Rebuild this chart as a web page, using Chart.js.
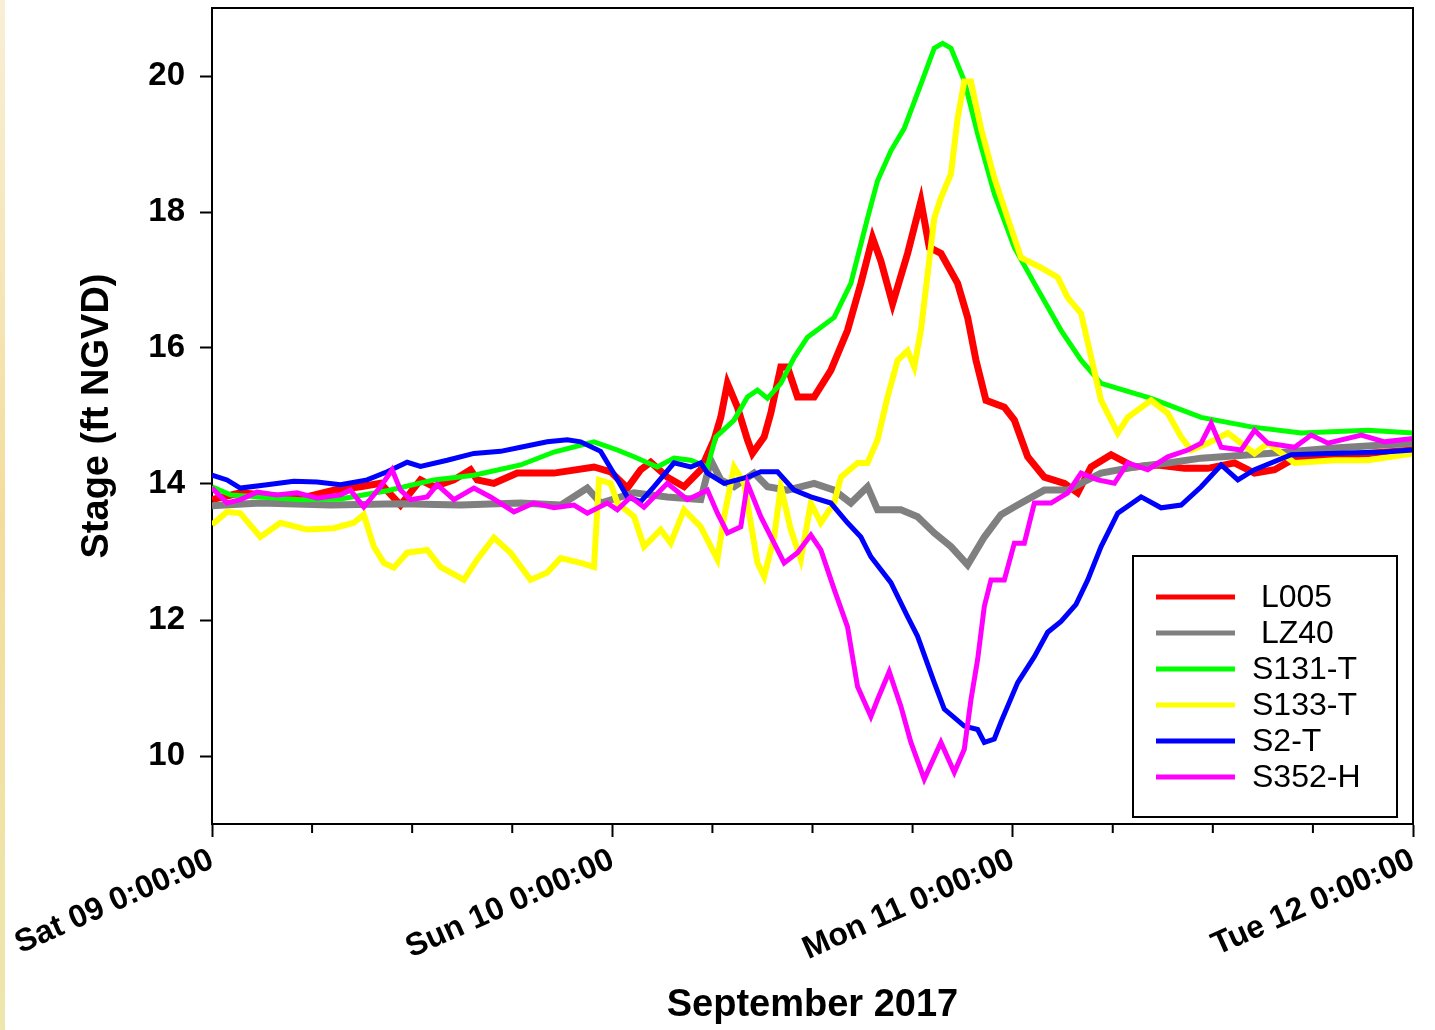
<!DOCTYPE html>
<html>
<head>
<meta charset="utf-8">
<title>Stage September 2017</title>
<script src="https://cdn.jsdelivr.net/npm/chart.js@4.4.1/dist/chart.umd.min.js"></script>
<style>
  body { margin: 0; background: #fff; }
  #strip { position: absolute; left: 0; top: 0; width: 5px; height: 1030px;
           background: linear-gradient(#f8efd6, #f4dd9c 50%, #eee6ac); }
  canvas { position: absolute; left: 0; top: 0; }
</style>
</head>
<body>
<div id="strip"></div>
<canvas id="stage" width="1435" height="1030"></canvas>
<script>
// hours since Sat 09 0:00 and stage (ft NGVD)
let l005Hours = [0,1.7,5.3,7.3,8.9,10.1,11.3,12.5,13.3,14.5,15.5,15.9,16.9,18.3,20.5,22.9,23.9,24.9,25.7,26.3,27.3,28.3,29.3,30.1,30.5,30.9,31.5,32.1,32.4,33.1,33.5,34.1,34.5,35.1,36.1,37.1,38.1,38.9,39.6,40.1,40.8,41.7,42.5,43,43.7,44.7,45.3,45.8,46.4,47.5,48.1,48.9,49.9,51.1,51.9,52.7,53.9,55.3,56.7,58.3,59.7,61.3,62.5,63.7,64.7,67.3,69.3,72];
let l005Stage = [13.77,13.87,13.79,13.91,13.96,14.01,13.69,14.06,13.96,14.06,14.21,14.06,14.01,14.16,14.16,14.25,14.18,13.94,14.21,14.32,14.10,13.96,14.21,14.65,14.98,15.48,15.13,14.65,14.45,14.69,15.04,15.72,15.72,15.28,15.28,15.67,16.26,16.95,17.62,17.28,16.65,17.39,18.16,17.48,17.39,16.95,16.45,15.82,15.23,15.13,14.94,14.40,14.10,14.01,13.87,14.25,14.43,14.25,14.28,14.23,14.23,14.31,14.16,14.21,14.35,14.40,14.45,14.50];

let lz40Hours = [0,2.9,7.1,11.3,14.9,18.5,20.9,22.5,23.3,25.3,27.3,29.3,29.9,30.5,31.3,32.5,33.3,34.5,36.1,37.3,38.3,39.3,39.9,41.3,42.3,43.3,44.3,45.3,46.3,47.3,48.3,49.9,51.3,53.3,55.3,57.3,59.3,63.3,67.3,72];
let lz40Stage = [13.68,13.72,13.69,13.71,13.69,13.72,13.69,13.94,13.72,13.87,13.81,13.77,14.35,14.06,13.96,14.16,13.96,13.91,14.01,13.91,13.72,13.96,13.62,13.62,13.52,13.28,13.08,12.81,13.22,13.55,13.69,13.91,13.91,14.16,14.25,14.31,14.38,14.45,14.53,14.60];

let s131Hours = [0,1.1,2.9,5.3,7.7,10.5,13.3,15.7,18.5,20.5,22.9,24.3,25.3,26.7,27.7,28.7,29.7,30.2,31.3,32.1,32.7,33.3,34.1,34.9,35.7,37.3,38.3,39.3,39.9,40.7,41.5,42.5,43.3,43.8,44.3,45.1,45.9,46.9,48.1,49.3,50.9,52.1,53.3,56.3,59.3,62.3,65.3,69.3,72];
let s131Stage = [13.96,13.84,13.81,13.77,13.78,13.90,14.06,14.13,14.28,14.47,14.62,14.50,14.40,14.25,14.38,14.35,14.25,14.69,14.94,15.28,15.38,15.26,15.48,15.86,16.16,16.45,16.95,17.91,18.46,18.90,19.23,19.88,20.41,20.48,20.41,19.93,19.15,18.27,17.48,16.95,16.26,15.82,15.48,15.26,14.98,14.84,14.75,14.79,14.75];

let s133Hours = [0,0.9,1.7,2.9,4.1,5.7,7.3,8.5,9.1,9.7,10.3,10.9,11.7,12.9,13.7,15.1,15.9,16.9,17.9,19.1,20.1,20.9,22.1,22.9,23.2,23.9,24.3,25.3,25.9,26.9,27.5,28.3,29.3,30.3,30.7,31.3,31.9,32.7,33.1,33.7,34.1,34.7,35.3,35.9,36.5,37.3,37.7,38.7,39.3,39.9,40.5,41.1,41.7,42.1,42.5,43.3,43.7,44.3,44.7,45.1,45.5,46.1,46.9,47.7,48.5,49.7,50.7,51.3,52.1,53.3,54.3,54.9,56.3,57.3,58.1,58.7,59.7,60.9,62.5,63.3,64.9,67.3,69.3,72];
let s133Stage = [13.40,13.59,13.57,13.22,13.43,13.33,13.35,13.43,13.55,13.08,12.84,12.77,12.99,13.03,12.78,12.59,12.89,13.21,12.99,12.59,12.70,12.91,12.84,12.78,14.06,14.01,13.72,13.52,13.08,13.33,13.13,13.62,13.37,12.89,13.52,14.25,14.01,12.84,12.64,13.22,13.96,13.33,12.89,13.72,13.43,13.72,14.10,14.31,14.31,14.65,15.28,15.82,15.96,15.72,16.26,17.91,18.21,18.56,19.38,19.92,19.92,19.23,18.50,17.91,17.33,17.18,17.04,16.74,16.51,15.23,14.75,14.98,15.23,15.04,14.69,14.50,14.60,14.75,14.45,14.60,14.31,14.35,14.35,14.45];

let s2Hours = [0,0.9,1.7,3.3,4.9,6.3,7.7,9.3,10.5,11.7,12.5,14.1,15.7,17.3,18.5,20.1,21.3,22.1,23.3,24.1,24.9,25.7,26.5,27.7,28.7,29.3,29.7,30.7,32.1,32.9,33.9,34.9,35.9,37.1,38.1,38.9,39.5,40.7,41.7,42.3,43.3,43.9,45.1,45.9,46.3,46.9,47.3,48.3,49.3,50.1,50.9,51.8,52.5,53.3,54.3,55.7,56.9,58.1,59.3,60.5,61.5,62.5,64.7,66.9,70.3,72];
let s2Stage = [14.13,14.06,13.94,13.99,14.04,14.03,13.99,14.06,14.18,14.32,14.26,14.35,14.45,14.48,14.54,14.62,14.65,14.62,14.48,14.15,13.81,13.74,13.96,14.31,14.25,14.31,14.16,14.01,14.10,14.18,14.18,13.91,13.81,13.72,13.43,13.22,12.93,12.55,12.05,11.76,11.08,10.69,10.44,10.39,10.20,10.25,10.50,11.08,11.46,11.82,11.98,12.23,12.59,13.08,13.57,13.81,13.65,13.69,13.96,14.28,14.06,14.21,14.43,14.45,14.47,14.50];

let s352Hours = [0,0.9,1.7,2.7,3.9,5.1,6.3,7.7,8.3,9.1,10.1,10.8,11.3,11.9,12.9,13.5,14.5,15.7,16.7,18.1,19.3,20.5,21.7,22.5,23.7,24.3,25.1,25.9,27.3,28.5,29.7,30.3,30.9,31.7,32.1,32.9,33.7,34.3,35.1,35.9,36.5,37.3,38.1,38.7,39.5,39.9,40.6,41.3,41.9,42.7,43.7,44.5,45.1,45.5,45.9,46.3,46.7,47.5,48.1,48.7,49.3,50.3,51.3,52.1,53.1,54.1,54.9,56.1,57.3,58.5,59.3,59.9,60.5,61.7,62.5,63.3,64.9,65.9,66.9,68.9,70.3,72];
let s352Stage = [13.94,13.72,13.77,13.88,13.84,13.87,13.79,13.84,13.91,13.66,13.96,14.21,13.91,13.77,13.81,13.99,13.77,13.94,13.81,13.59,13.72,13.65,13.69,13.57,13.72,13.62,13.81,13.66,14.01,13.77,13.91,13.57,13.28,13.37,14.01,13.52,13.13,12.84,12.99,13.25,13.03,12.45,11.90,11.02,10.58,10.83,11.24,10.73,10.20,9.66,10.20,9.76,10.10,10.83,11.42,12.20,12.59,12.59,13.13,13.13,13.72,13.72,13.87,14.16,14.06,14.01,14.31,14.21,14.40,14.50,14.60,14.89,14.54,14.50,14.79,14.60,14.54,14.72,14.60,14.72,14.62,14.67];

let seriesNames = [' L005', ' LZ40', 'S131-T', 'S133-T', 'S2-T', 'S352-H'];
let seriesColors = ['#ff0000', '#808080', '#00ff00', '#ffff00', '#0000ff', '#ff00ff'];
let seriesWidths = [7, 7, 5, 6, 5, 5];
let seriesHours = [l005Hours, lz40Hours, s131Hours, s133Hours, s2Hours, s352Hours];
let seriesStage = [l005Stage, lz40Stage, s131Stage, s133Stage, s2Stage, s352Stage];

let xTickHours = [0, 6, 12, 18, 24, 30, 36, 42, 48, 54, 60, 66, 72];
let dayLabels = ['Sat 09 0:00:00', 'Sun 10 0:00:00', 'Mon 11 0:00:00', 'Tue 12 0:00:00'];
let yTicks = [10, 12, 14, 16, 18, 20];

let fontFam = '"Liberation Sans", Arial, sans-serif';

let datasets = seriesNames.map(function (name, i) {
    return {
        label: name,
        data: seriesHours[i].map(function (h, j) { return { x: h, y: seriesStage[i][j] }; }),
        borderColor: seriesColors[i],
        backgroundColor: seriesColors[i],
        borderWidth: seriesWidths[i],
        pointRadius: 0,
        tension: 0,
        order: seriesNames.length - i
    };
});

// top/right frame, minor x ticks and the boxed legend
let framePlugin = {
    id: 'frame',
    afterDraw: function (chart) {
        let ctx = chart.ctx, a = chart.chartArea, x = chart.scales.x;
        ctx.save();
        ctx.strokeStyle = '#000';
        ctx.lineWidth = 2;
        ctx.beginPath();
        ctx.moveTo(a.left, a.top);
        ctx.lineTo(a.right, a.top);
        ctx.lineTo(a.right, a.bottom);
        ctx.stroke();
        ctx.beginPath();
        xTickHours.forEach(function (h) {
            if (h % 24 !== 0) {
                let px = x.getPixelForValue(h);
                ctx.moveTo(px, a.bottom);
                ctx.lineTo(px, a.bottom + 9);
            }
        });
        ctx.stroke();

        let bx = a.right - 280, by = a.bottom - 268, bw = 264, bh = 261;
        ctx.fillStyle = '#fff';
        ctx.fillRect(bx, by, bw, bh);
        ctx.strokeRect(bx, by, bw, bh);
        ctx.font = '32px ' + fontFam;
        ctx.textBaseline = 'middle';
        ctx.textAlign = 'left';
        chart.data.datasets.forEach(function (ds, i) {
            let ly = by + 41 + i * 36;
            ctx.strokeStyle = ds.borderColor;
            ctx.lineWidth = 5;
            ctx.beginPath();
            ctx.moveTo(bx + 23, ly);
            ctx.lineTo(bx + 102, ly);
            ctx.stroke();
            ctx.fillStyle = '#000';
            ctx.fillText(ds.label, bx + 119, ly + 1);
        });
        ctx.restore();
    }
};

let mychart = document.getElementById('stage').getContext('2d');
let chart = new Chart(mychart, {
    type: 'line',
    data: { datasets: datasets },
    plugins: [framePlugin],
    options: {
        responsive: false,
        animation: false,
        layout: { padding: { left: 0, right: 22, top: 8, bottom: 0 } },
        plugins: {
            legend: { display: false },
            tooltip: { enabled: false }
        },
        scales: {
            x: {
                type: 'linear',
                min: 0,
                max: 72,
                afterBuildTicks: function (scale) {
                    scale.ticks = xTickHours.map(function (h) { return { value: h }; });
                },
                afterFit: function (scale) {
                    scale.height = 206;
                    scale.paddingLeft = 0;
                    scale.paddingRight = 0;
                },
                ticks: {
                    autoSkip: false,
                    minRotation: 24,
                    maxRotation: 24,
                    padding: 4,
                    color: '#000',
                    font: { family: fontFam, size: 32, weight: 'bold' },
                    callback: function (v) { return v % 24 === 0 ? dayLabels[v / 24] : ''; }
                },
                grid: {
                    drawOnChartArea: false,
                    tickLength: 13,
                    tickWidth: 2,
                    tickColor: function (c) { return c.tick && c.tick.value % 24 === 0 ? '#000' : 'rgba(0,0,0,0)'; }
                },
                border: { display: true, color: '#000', width: 2 },
                title: {
                    display: true,
                    text: 'September 2017',
                    color: '#000',
                    font: { family: fontFam, size: 38, weight: 'bold' },
                    padding: { top: 0, bottom: 2 }
                }
            },
            y: {
                min: 9,
                max: 21,
                afterBuildTicks: function (scale) {
                    scale.ticks = yTicks.map(function (v) { return { value: v }; });
                },
                afterFit: function (scale) {
                    scale.width = 212;
                    scale.paddingTop = 0;
                    scale.paddingBottom = 0;
                },
                ticks: {
                    padding: 15,
                    color: '#000',
                    font: { family: fontFam, size: 33, weight: 'bold' }
                },
                grid: {
                    drawOnChartArea: false,
                    tickLength: 12,
                    tickWidth: 2,
                    tickColor: '#000'
                },
                border: { display: true, color: '#000', width: 2 },
                title: {
                    display: true,
                    text: 'Stage (ft NGVD)',
                    color: '#000',
                    font: { family: fontFam, size: 38, weight: 'bold' },
                    padding: { top: 75, bottom: 0 }
                }
            }
        }
    }
});
</script>
</body>
</html>
